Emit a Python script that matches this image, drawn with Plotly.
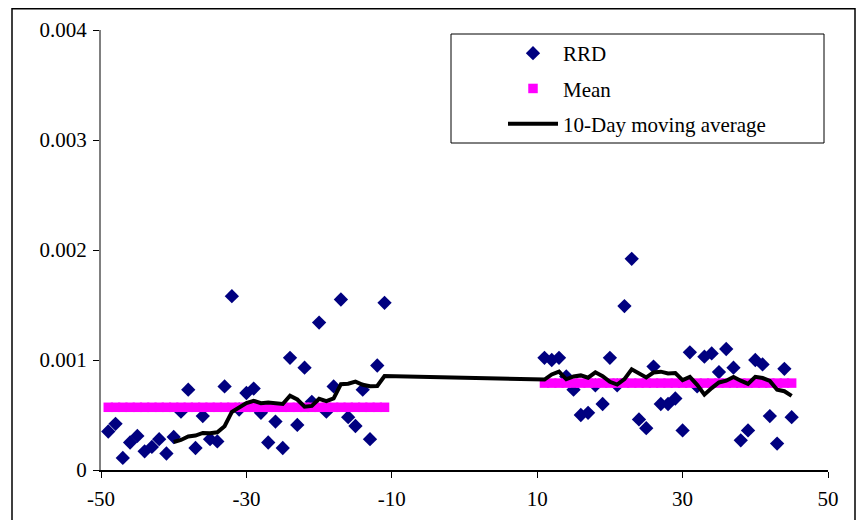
import plotly.graph_objects as go

# ---------------- data ----------------
days_pre = list(range(-49, -10))      # -49 .. -11
days_post = list(range(11, 46))       # 11 .. 45

rrd_pre = [0.00035, 0.00042, 0.00011, 0.00025, 0.00031, 0.00017, 0.00021, 0.00028, 0.00015, 0.00030,
           0.00053, 0.00073, 0.00020, 0.00049, 0.00028, 0.00026, 0.00076, 0.00158, 0.00055, 0.00070,
           0.00074, 0.00052, 0.00025, 0.00044, 0.00020, 0.00102, 0.00041, 0.00093, 0.00062, 0.00134,
           0.00053, 0.00076, 0.00155, 0.00048, 0.00040, 0.00073, 0.00028, 0.00095, 0.00152]
rrd_post = [0.00102, 0.00100, 0.00102, 0.00085, 0.00073, 0.00050, 0.00052, 0.00077, 0.00060, 0.00102,
            0.00077, 0.00149, 0.00192, 0.00046, 0.00038, 0.00094, 0.00060, 0.00060, 0.00065, 0.00036,
            0.00107, 0.00076, 0.00103, 0.00106, 0.00089, 0.00110, 0.00093, 0.00027, 0.00036, 0.00100,
            0.00096, 0.00049, 0.00024, 0.00092, 0.00048]

mean_pre = 0.00057
mean_post = 0.00079

ma_days_pre = list(range(-40, -10))   # -40 .. -11
ma_days_post = list(range(11, 46))    # 11 .. 45
ma_pre = [0.000255, 0.000273, 0.000304, 0.000313, 0.000337, 0.000334, 0.000343, 0.000398, 0.000528, 0.000568,
          0.000608, 0.000629, 0.000608, 0.000613, 0.000608, 0.000600, 0.000676, 0.000641, 0.000576, 0.000583,
          0.000647, 0.000626, 0.000650, 0.000780, 0.000784, 0.000804, 0.000775, 0.000762, 0.000764, 0.000854]
ma_post = [0.000822, 0.000869, 0.000895, 0.000825, 0.000850, 0.000860, 0.000839, 0.000888, 0.000853, 0.000802,
           0.000777, 0.000826, 0.000916, 0.000877, 0.000842, 0.000886, 0.000894, 0.000877, 0.000882, 0.000817,
           0.000847, 0.000774, 0.000685, 0.000745, 0.000796, 0.000812, 0.000845, 0.000812, 0.000783, 0.000847,
           0.000836, 0.000809, 0.000730, 0.000716, 0.000674]

x_tick_vals = [-50, -30, -10, 10, 30, 50]
x_tick_labels = ["-50", "-30", "-10", "10", "30", "50"]
y_tick_vals = [0, 0.001, 0.002, 0.003, 0.004]
y_tick_labels = ["0", "0.001", "0.002", "0.003", "0.004"]

series_names = ["RRD", "Mean", "10-Day moving average"]

# ---------------- layout geometry ----------------
# the page body adds an 8px margin, so the figure is 8px smaller and all
# screen positions are shifted by OFF
OFF = 8
W, H = 864 - OFF, 520 - OFF
L, T = 101 - OFF, 30 - OFF
R = W - (828 - OFF)
B = H - (470 - OFF)
pw, ph = W - L - R, H - T - B


def px2x(px):
    """screen x pixel -> paper x"""
    return (px - OFF - L) / pw


def py2y(py):
    """screen y pixel -> paper y"""
    return (H - B - (py - OFF)) / ph


FONT = "Liberation Serif, Times New Roman, serif"

fig = go.Figure()

fig.add_trace(go.Scatter(
    x=days_pre + days_post, y=rrd_pre + rrd_post, mode="markers", name=series_names[0],
    legendgroup="a",
    marker=dict(symbol="diamond", size=11, color="#000080", line=dict(width=0)),
))
fig.add_trace(go.Scatter(
    x=days_pre + days_post,
    y=[mean_pre] * len(days_pre) + [mean_post] * len(days_post),
    mode="markers", name=series_names[1], legendgroup="b",
    marker=dict(symbol="square", size=9.5, color="#FF00FF", line=dict(width=0)),
))
fig.add_trace(go.Scatter(
    x=ma_days_pre + ma_days_post, y=ma_pre + ma_post, mode="lines", name=series_names[2],
    legendgroup="c",
    line=dict(color="#000000", width=4),
))

fig.update_layout(
    width=W, height=H,
    margin=dict(l=L, r=R, t=T, b=B, pad=0, autoexpand=False),
    paper_bgcolor="white", plot_bgcolor="white",
    font=dict(family=FONT, size=21, color="black"),
    showlegend=True,
    legend=dict(
        x=px2x(503), y=py2y(33), xanchor="left", yanchor="top",
        bgcolor="rgba(0,0,0,0)", borderwidth=0,
        itemwidth=50, tracegroupgap=5,
        font=dict(family=FONT, size=21, color="black"),
    ),
    xaxis=dict(
        range=[-50, 50], tickvals=x_tick_vals, ticktext=x_tick_labels,
        showgrid=False, zeroline=False, showline=True, linecolor="black", linewidth=1.5,
        ticks="outside", ticklen=6, tickwidth=1, tickcolor="black", ticklabelstandoff=3,
        tickfont=dict(family=FONT, size=21, color="black"),
    ),
    yaxis=dict(
        range=[0, 0.004], tickvals=y_tick_vals, ticktext=y_tick_labels,
        showgrid=False, zeroline=False, showline=True, linecolor="#808080", linewidth=2,
        ticks="outside", ticklen=6, tickwidth=1, tickcolor="black", ticklabelstandoff=2,
        tickfont=dict(family=FONT, size=21, color="black"),
    ),
    shapes=[
        # outer chart border
        dict(type="rect", xref="paper", yref="paper",
             x0=px2x(12), x1=px2x(855), y0=py2y(540), y1=py2y(8.8),
             line=dict(color="black", width=1.5), fillcolor="rgba(0,0,0,0)", layer="below"),
        # legend box
        dict(type="rect", xref="paper", yref="paper",
             x0=px2x(451), x1=px2x(824), y0=py2y(143), y1=py2y(34),
             line=dict(color="black", width=1), fillcolor="rgba(0,0,0,0)", layer="above"),
    ],
)

fig.write_html("out.html")
